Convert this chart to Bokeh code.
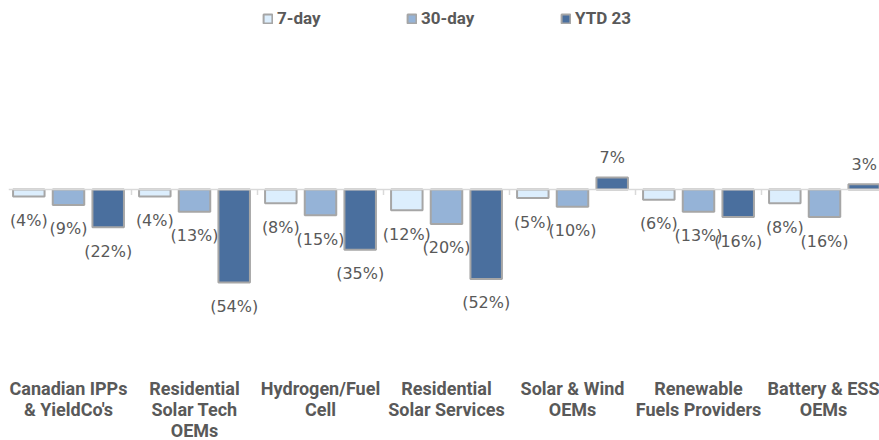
from bokeh.plotting import figure
from bokeh.models import ColumnDataSource, Range1d, FixedTicker, Span, Legend, LegendItem
from bokeh.core.properties import value
from bokeh.embed import file_html
from bokeh.resources import INLINE

# ---------------- data ----------------
categories = [
    "Canadian IPPs\n& YieldCo's",
    "Residential\nSolar Tech\nOEMs",
    "Hydrogen/Fuel\nCell",
    "Residential\nSolar Services",
    "Solar & Wind\nOEMs",
    "Renewable\nFuels Providers",
    "Battery & ESS\nOEMs",
]
series_names = ["7-day", "30-day", "YTD 23"]
day7 = [-4, -4, -8, -12, -5, -6, -8]
day30 = [-9, -13, -15, -20, -10, -13, -16]
ytd23 = [-22, -54, -35, -52, 7, -16, 3]

# ---------------- style ----------------
fills = ["#DCEEFD", "#95B3D7", "#4A6F9E"]
border = "#A6A6A6"
text_col = "#595959"
FONT = "Roboto"
VAL_FONT = "DejaVu Sans"

LEFT, TOP = 8, 8
FRAME_W, FRAME_H = 871, 367
GROUP_PX = 126.0
X0_PAGE = 5.0        # page x of group 0 start
ZERO_PAGE = 189.0    # page y of zero line
PX_PER_PCT = 1.72
offsets = [-0.315, 0.0, 0.315]
bar_w = 0.25
legend_x = [254, 398, 552]

x_start = (LEFT - X0_PAGE) / GROUP_PX
x_end = (LEFT + FRAME_W - X0_PAGE) / GROUP_PX
y_top = (ZERO_PAGE - TOP) / PX_PER_PCT
y_bot = -(TOP + FRAME_H - ZERO_PAGE) / PX_PER_PCT

p = figure(frame_width=FRAME_W, frame_height=FRAME_H,
           x_range=Range1d(x_start, x_end), y_range=Range1d(y_bot, y_top),
           output_backend="svg", toolbar_location=None, y_axis_location=None,
           min_border=0, min_border_left=LEFT, min_border_right=0, min_border_top=TOP)
p.outline_line_color = None
p.xgrid.visible = False
p.ygrid.visible = False
p.background_fill_color = "white"

# zero line and group boundary ticks
p.add_layout(Span(location=0, dimension="width", line_color="#D9D9D9", line_width=1.5))
bounds = list(range(len(categories) + 1))
p.segment(x0=bounds, x1=bounds, y0=[0] * len(bounds), y1=[-3.2] * len(bounds),
          line_color="#D9D9D9", line_width=1.5)

for k, (name, vals) in enumerate(zip(series_names, [day7, day30, ytd23])):
    xs = [i + 0.5 + offsets[k] for i in range(len(categories))]
    labels = [f"({abs(v)}%)" if v < 0 else f"{v}%" for v in vals]
    yoff = [24 if v < 0 else -20 for v in vals]
    src = ColumnDataSource(dict(x=xs, top=vals, label=labels, yoff=yoff))
    r = p.vbar(x="x", top="top", bottom=0, width=bar_w, source=src,
               fill_color=fills[k], line_color=border, line_width=2)
    p.text(x="x", y="top", text="label", y_offset="yoff", source=src,
           text_align="center", text_baseline="middle",
           text_font=value(VAL_FONT), text_font_size="16px", text_color=text_col)
    leg = Legend(items=[LegendItem(label=name, renderers=[r])], orientation="horizontal",
                 location=(legend_x[k], FRAME_H - 20),
                 margin=0, padding=0, spacing=0, glyph_width=11, glyph_height=11,
                 label_standoff=4, label_height=20,
                 label_text_font=FONT, label_text_font_size="17px",
                 label_text_font_style="bold", label_text_color=text_col,
                 background_fill_alpha=0, border_line_color=None)
    p.add_layout(leg)

ax = p.xaxis[0]
ticks = [i + 0.5 for i in range(len(categories))]
ax.ticker = FixedTicker(ticks=ticks)
ax.major_label_overrides = {t: c for t, c in zip(ticks, categories)}
ax.axis_line_color = None
ax.major_tick_line_color = None
ax.minor_tick_line_color = None
ax.major_tick_out = 0
ax.major_tick_in = 0
ax.major_label_standoff = 2
ax.major_label_text_font = FONT
ax.major_label_text_font_size = "18px"
ax.major_label_text_line_height = 1.0
ax.major_label_text_font_style = "bold"
ax.major_label_text_color = text_col

open("out.html", "w").write(file_html(p, INLINE))
